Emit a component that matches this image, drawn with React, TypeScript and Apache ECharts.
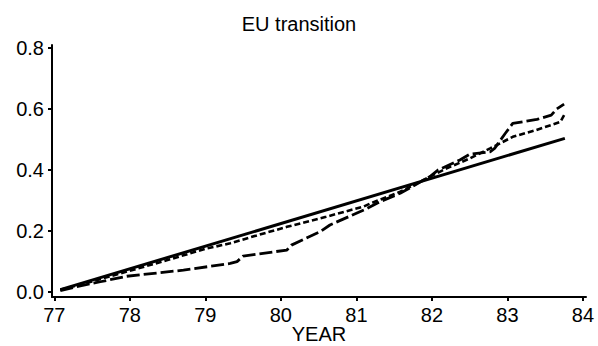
import React, { useEffect, useRef } from "react";
import * as echarts from "echarts";

const titleText = "EU transition";
const xAxisName = "YEAR";
const xTicks = [77, 78, 79, 80, 81, 82, 83, 84];
const yTicks = [0, 0.2, 0.4, 0.6, 0.8];

const solidYears = [77.08, 83.76];
const solidValues = [0.008, 0.504];

const shortDashYears = [77.08, 77.5, 78, 78.5, 79, 79.33, 79.6, 80.08, 80.6, 81.09, 81.18, 81.58, 81.97, 82.19, 82.5, 82.77, 83.07, 83.38, 83.7, 83.75];
const shortDashValues = [0.008, 0.035, 0.07, 0.105, 0.142, 0.16, 0.18, 0.214, 0.247, 0.28, 0.29, 0.329, 0.378, 0.405, 0.438, 0.471, 0.509, 0.531, 0.558, 0.58];

const longDashYears = [77.08, 77.3, 77.61, 77.96, 78.71, 79.33, 79.42, 79.5, 80.08, 80.14, 80.52, 80.65, 81.14, 81.31, 81.58, 81.97, 82.08, 82.37, 82.5, 82.77, 82.83, 82.97, 83.07, 83.39, 83.58, 83.65, 83.75];
const longDashValues = [0.005, 0.018, 0.034, 0.052, 0.072, 0.094, 0.1, 0.118, 0.138, 0.154, 0.198, 0.22, 0.274, 0.296, 0.324, 0.378, 0.4, 0.433, 0.452, 0.46, 0.471, 0.52, 0.553, 0.566, 0.58, 0.6, 0.616];

const zip = (xs: number[], ys: number[]) => xs.map((x, i) => [x, ys[i]]);

export default function App() {
  const ref = useRef<HTMLDivElement>(null);
  useEffect(() => {
    if (!ref.current) return;
    const chart = echarts.init(ref.current, null, { renderer: "svg" });
    const font = "'Liberation Sans', Arial, Helvetica, sans-serif";
    chart.setOption({
      animation: false,
      backgroundColor: "#fff",
      title: {
        text: titleText,
        left: "center",
        top: 9,
        textStyle: { fontFamily: font, fontSize: 20, fontWeight: "normal", color: "#000" },
      },
      grid: { left: 52, right: 12, top: 45, bottom: 49, containLabel: false, outerBoundsMode: "none" },
      xAxis: {
        type: "value",
        min: 76.97,
        max: 84.04,
        name: xAxisName,
        nameLocation: "middle",
        nameGap: 27,
        nameMoveOverlap: false,
        nameTextStyle: { fontFamily: font, fontSize: 20, color: "#000", lineHeight: 20 },
        axisLine: { onZero: false, lineStyle: { color: "#000", width: 2 } },
        axisTick: { show: true, customValues: xTicks, length: 4, lineStyle: { color: "#000", width: 2 } },
        axisLabel: {
          customValues: xTicks,
          margin: 8,
          fontFamily: font,
          fontSize: 20,
          color: "#000",
          formatter: (v: number) => String(Math.round(v)),
        },
        splitLine: { show: false },
      },
      yAxis: {
        type: "value",
        min: -0.016,
        max: 0.81,
        axisLine: { show: true, onZero: false, lineStyle: { color: "#000", width: 2 } },
        axisTick: { show: true, customValues: yTicks, length: 4, lineStyle: { color: "#000", width: 2 } },
        axisLabel: {
          customValues: yTicks,
          margin: 8,
          fontFamily: font,
          fontSize: 20,
          color: "#000",
          formatter: (v: number) => v.toFixed(1),
        },
        splitLine: { show: false },
      },
      series: [
        {
          type: "line",
          data: zip(solidYears, solidValues),
          showSymbol: false,
          lineStyle: { color: "#000", width: 3, type: "solid" },
        },
        {
          type: "line",
          data: zip(shortDashYears, shortDashValues),
          showSymbol: false,
          lineStyle: { color: "#000", width: 2.6, type: [6, 3] },
        },
        {
          type: "line",
          data: zip(longDashYears, longDashValues),
          showSymbol: false,
          lineStyle: { color: "#000", width: 2.8, type: [13, 4] },
        },
      ],
    });
    return () => chart.dispose();
  }, []);
  return <div ref={ref} style={{ width: 598, height: 346, position: "absolute", left: 0, top: 0 }} />;
}
